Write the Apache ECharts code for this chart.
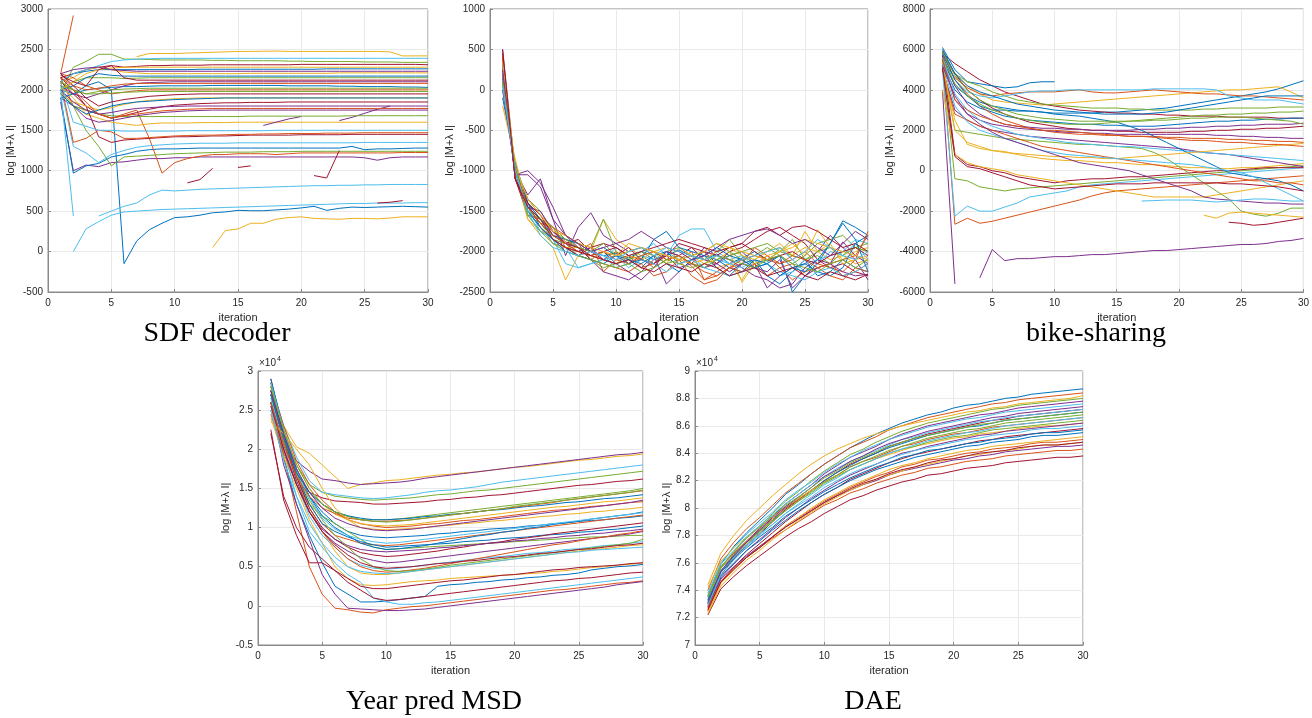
<!DOCTYPE html>
<html><head><meta charset="utf-8">
<script src="https://cdn.jsdelivr.net/npm/echarts/dist/echarts.min.js"></script>
<style>html,body{margin:0;padding:0;background:#fff}#c{width:1312px;height:718px}</style>
</head><body><div id="c"></div>
<script>
const iterations = [1,2,3,4,5,6,7,8,9,10,11,12,13,14,15,16,17,18,19,20,21,22,23,24,25,26,27,28,29,30];

const sdfLines = [
[2000,1950,2050,2100,2000,-150,130,270,350,420, 430,450,480,490,510,505,505,515,525,540, 560,510,535,550,545,550,555,560,555,550],
[2200,2920],
[null,null,null,null,null,null,null,null,null,null, null,null,50,260,280,350,350,400,420,430, 410,405,400,410,410,405,415,430,430,430],
[1850,1000,1070,1050,1100,1110,1130,1150,1150,1160, 1160,1170,1170,1170,1170,1170,1170,1170,1170,1170, 1170,1170,1170,1170,1160,1130,1160,1170,1170,1170],
[1950,2280,2350,2440,2440,2380,2380,2375,2370,2370, 2370,2370,2365,2365,2360,2360,2360,2360,2355,2355, 2350,2350,2350,2350,2345,2345,2345,2340,2340,2340],
[null,0,280,370,450,490,500,510,520,525, 530,535,540,545,550,555,560,565,570,575, 580,585,590,595,595,600,600,600,605,605],
[2150,2200,2250,2280,2300,2280,2290,2300,2300,2305, 2305,2305,2310,2310,2310,2310,2310,2310,2310,2315, 2315,2315,2315,2315,2315,2315,2315,2315,2315,2310],
[1900,970,1060,1090,1170,1200,1240,1260,1270,1270, 1275,1280,1280,1280,1280,1280,1280,1280,1280,1280, 1280,1280,1280,1300,1260,1270,1270,1275,1280,1280],
[2150,1800,1750,1700,1650,1700,1750,1400,970,1100, 1150,1180,1200,1200,1210,1210,1210,1200,1210,1220, 1220,1220,1220,1220,1220,1220,1220,1225,1225,1225],
[2050,1900,1700,1650,1600,1580,1560,1580,1590,1590, 1590,1595,1595,1595,1600,1600,1600,1600,1600,1600, 1600,1600,1600,1600,1600,1600,1600,1600,1600,1600],
[null,null,null,null,null,null,null,null,null,null, null,null,null,null,null,null,1560,1600,1640,1670, null,null,1620,1660,1710,1760,1800],
[2000,1800,1500,1300,1060,1170,1180,1190,1200,1210, 1215,1220,1225,1230,1230,1230,1235,1235,1235,1240, 1240,1240,1240,1240,1240,1240,1240,1240,1240,1240],
[2050,1300,1220,1100,1200,1250,1290,1310,1320,1330, 1335,1340,1340,1340,1345,1345,1345,1345,1345,1345, 1345,1345,1345,1345,1350,1350,1350,1350,1350,1350],
[2150,2000,1800,1420,1350,1380,1390,1400,1410,1420, 1420,1425,1430,1430,1435,1440,1440,1440,1440,1445, 1445,1445,1445,1450,1450,1450,1450,1450,1450,1450],
[1900,1950,2000,2020,2030,2040,2040,2045,2050,2050, 2050,2050,2055,2055,2055,2055,2055,2055,2050,2050, 2050,2050,2045,2045,2040,2040,2040,2035,2035,2030],
[2100,1350,1400,1500,1480,1400,1400,1410,1420,1430, 1435,1440,1440,1445,1450,1450,1455,1455,1460,1460, 1460,1465,1465,1465,1470,1470,1470,1470,1470,1470],
[2100,2150,2250,2280,2250,2220,2210,2200,2200,2200, 2200,2200,2200,2200,2200,2205,2205,2205,2205,2205, 2205,2205,2210,2210,2210,2210,2210,2210,2210,2210],
[2050,1950,1900,1950,2000,2050,2080,2090,2095,2100, 2100,2100,2100,2100,2100,2100,2100,2100,2100,2100, 2100,2100,2100,2100,2100,2100,2100,2100,2100,2100],
[1950,1800,1750,1700,1680,1670,1670,1670,1670,1670, 1670,1670,1670,1670,1670,1675,1675,1675,1675,1675, 1675,1675,1675,1680,1680,1680,1680,1680,1680,1680],
[null,null,null,440,500,560,600,700,760,750, 760,770,775,780,785,790,795,800,805,810, 815,815,820,820,825,825,830,830,830,830],
[2100,1950,1800,1700,1650,1680,1720,1760,1790,1810, 1820,1830,1835,1840,1840,1845,1845,1845,1850,1850, 1850,1850,1850,1850,1850,1850,1850,1850,1850,1850],
[2100,2200,2230,2250,2250,2250,2250,2250,2250,2250, 2250,2255,2255,2255,2255,2255,2255,2255,2255,2255, 2255,2260,2260,2260,2260,2260,2260,2260,2260,2260],
[2200,2150,2050,2000,1950,1970,1990,2000,2000,2000, 2000,2000,2000,2000,2000,2000,2000,2000,2000,2000, 2000,2000,2000,2000,2000,2000,2000,2000,2000,2000],
[1950,1850,1800,1750,1780,1820,1850,1870,1880,1890, 1895,1900,1900,1900,1900,1900,1900,1900,1900,1900, 1900,1900,1900,1900,1900,1900,1900,1900,1900,1900],
[2000,1850,1750,1700,1720,1750,1770,1780,1790,1795, 1800,1800,1800,1800,1800,1800,1800,1800,1800,1800, 1800,1800,1800,1800,1800,1800,1800,1800,1800,1800],
[2000,2100,2150,2150,2150,2140,2145,2150,2150,2150, 2150,2150,2150,2150,2150,2150,2150,2150,2150,2150, 2150,2150,2150,2150,2150,2150,2150,2150,2150,2150],
[2100,2200,2250,2300,2350,2370,2380,2385,2390,2390, 2390,2390,2390,2390,2390,2390,2390,2390,2390,2390, 2390,2390,2390,2390,2390,2390,2390,2390,2390,2390],
[null,null,null,null,null,null,null,null,null,null, 850,890,1030,null,1040,1060,null,null,null,null, 940,910,1250,null,null,600,610,630],
[2000,2050,2150,2200,2180,2170,2170,2170,2170,2170, 2170,2170,2170,2170,2170,2170,2170,2170,2170,2170, 2170,2170,2170,2170,2170,2170,2170,2170,2170,2170],
[2150,2050,2000,2020,2050,2070,2080,2080,2080,2080, 2080,2080,2080,2080,2080,2080,2080,2080,2080,2080, 2080,2080,2080,2080,2080,2080,2080,2080,2080,2080],
[null,null,null,null,null,null,2410,2450,2450,2450, 2455,2460,2465,2470,2475,2475,2478,2480,2475,2475, 2475,2475,2475,2475,2475,2475,2470,2420,2420,2420],
[1900,1800,1650,1600,1620,1650,1680,1700,1720,1730, 1740,1745,1750,1750,1750,1750,1750,1750,1750,1750, 1750,1750,1750,1750,1750,1750,1750,1750,1750,1750],
[2050,2000,1950,1950,1960,1970,1975,1980,1980,1980, 1980,1980,1980,1980,1980,1980,1980,1980,1980,1980, 1980,1980,1980,1980,1980,1980,1980,1980,1980,1980],
[2100,1600,1550,1500,1500,1490,1490,1490,1490,1490, 1495,1495,1495,1495,1495,1495,1495,1500,1500,1500, 1500,1500,1500,1500,1500,1500,1500,1500,1500,1500],
[2200,2050,1900,1800,1850,1880,1900,1920,1930,1940, 1945,1950,1950,1950,1950,1950,1950,1950,1950,1950, 1950,1950,1950,1950,1950,1950,1950,1950,1950,1950],
[1950,1800,1700,1750,1800,1830,1850,1860,1870,1880, 1885,1890,1895,1900,1900,1900,1900,1900,1900,1900, 1900,1900,1900,1900,1900,1900,1900,1900,1900,1900],
[2100,2000,1850,1700,1650,1680,1700,1720,1740,1750, 1760,1765,1770,1770,1770,1770,1770,1770,1770,1770, 1770,1770,1770,1770,1770,1770,1770,1770,1770,1770],
[2000,2100,2200,2250,2270,2280,2280,2280,2280,2280, 2280,2280,2280,2280,2280,2280,2280,2280,2280,2280, 2280,2280,2280,2280,2280,2280,2280,2280,2280,2280],
[2200,2250,2270,2280,2250,2240,2230,2230,2230,2230, 2230,2230,2230,2230,2230,2230,2230,2230,2230,2230, 2230,2230,2230,2230,2230,2230,2230,2230,2230,2230],
[2100,2000,1950,1980,2000,2010,2015,2020,2020,2020, 2020,2020,2020,2020,2020,2020,2020,2020,2020,2020, 2020,2020,2020,2020,2020,2020,2020,2020,2020,2020],
[2000,440],
[2180,2100,2050,2250,2300,2150,2120,2120,2120,2120, 2120,2120,2120,2120,2120,2120,2120,2120,2120,2120, 2120,2120,2120,2120,2120,2120,2120,2120,2120,2120]
];

const abaloneLines = [
[200,-1000,-1450,-1650,-1800,-1900,-1950,-2000,-2050,-2020, -2080,-2000,-2100,-2050,-1980,-2060,-2100,-2030,-2150,-2080, -2000,-2120,-2050,-2500,-2300,-2150,-1900,-1620,-1700,-1800],
[300,-950,-1400,-1600,-1750,-1880,-1950,-2050,-2100,-2000, -2150,-2080,-2200,-2100,-2050,-2180,-2350,-2250,-2150,-2100, -2200,-2050,-2150,-2100,-2000,-2150,-2200,-2250,-2100,-1750],
[100,-1050,-1600,-1800,-1950,-2350,-2050,-2000,-1600,-1850, -1950,-2050,-2000,-1950,-2100,-2050,-2000,-2200,-2150,-2350, -2100,-2000,-1900,-2050,-1750,-2000,-2100,-2050,-2150,-2100],
[500,-1000,-1300,-1100,-1600,-2050,-1700,-1520,-1800,-1900, -2000,-1950,-2050,-2400,-2250,-2100,-2000,-2150,-2050,-2000, -2150,-2450,-2300,-2200,-2150,-2000,-1800,-1950,-2100,-2350],
[0,-950,-1350,-1500,-1750,-1850,-1900,-1950,-1600,-2000, -2100,-2050,-2150,-2000,-1950,-2050,-2100,-2000,-1850,-2050, -2150,-2100,-2000,-1850,-2100,-2050,-2150,-2000,-1950,-2000],
[150,-1050,-1500,-1700,-1850,-1950,-2200,-2150,-2100,-1950, -2050,-2000,-1900,-2050,-1800,-1720,-1720,-2000,-2100,-2050, -2200,-2150,-1950,-2100,-2250,-2150,-2000,-2050,-1900,-2100],
[400,-1100,-1550,-1600,-1750,-1900,-1850,-2000,-2100,-2050, -1950,-2100,-2150,-2000,-2050,-1950,-2100,-2150,-2000,-1950, -1850,-1750,-1700,-1800,-1900,-2100,-2200,-2150,-2250,-2300],
[-100,-900,-1400,-1700,-1900,-1950,-2050,-2100,-2000,-2150, -2100,-2200,-2050,-2150,-2250,-2100,-2050,-2200,-2300,-2150, -2100,-2300,-2400,-2250,-2100,-2300,-2250,-2100,-2200,-2250],
[250,-1000,-1350,-1550,-1700,-1950,-2000,-1900,-2250,-2100, -2050,-2200,-2150,-2050,-2100,-2000,-2350,-2300,-2200,-2150, -1950,-2050,-2200,-2150,-2300,-2200,-2150,-2300,-2250,-2150],
[450,-1000,-1600,-1750,-1800,-1850,-1950,-2100,-2000,-2050, -1900,-1950,-2000,-2150,-1950,-2050,-2150,-2100,-2000,-2380, -2150,-2050,-2000,-1900,-2050,-1730,-1950,-2100,-2000,-1950],
[350,-1050,-1000,-1150,-1450,-1800,-1950,-2100,-2250,-2300, -2350,-2250,-2100,-2050,-2200,-2150,-1950,-2050,-2100,-2200, -2300,-2350,-2450,-2400,-2200,-2100,-2150,-2250,-2300,-2280],
[50,-1000,-1450,-1650,-1850,-1900,-2050,-2100,-2200,-2150, -2100,-2000,-2050,-2150,-2100,-2050,-2000,-1900,-2000,-2100, -2050,-1950,-2050,-2150,-2050,-1900,-1850,-1800,-1950,-2000],
[200,-1050,-1550,-1750,-1800,-1900,-1950,-2000,-2050,-2200, -2150,-2050,-2100,-2000,-2100,-2050,-2200,-2100,-2150,-2200, -2100,-2150,-2300,-2250,-2150,-2100,-2050,-2000,-1850,-1900],
[300,-1100,-1500,-1700,-1850,-1950,-2050,-1950,-1900,-1950, -2050,-2100,-2150,-2050,-1900,-1950,-2000,-2050,-1950,-1900, -1750,-1700,-1800,-1700,-1680,-1750,-1850,-1950,-1900,-2000],
[100,-950,-1400,-1600,-1800,-1850,-1900,-2000,-1950,-2050, -2100,-2150,-2050,-2000,-2150,-2100,-2050,-2100,-2200,-2250, -2100,-2150,-2050,-2200,-2150,-2250,-2300,-2200,-1900,-1800],
[400,-1050,-1500,-1650,-1700,-1800,-1900,-2100,-2150,-2200, -2250,-2150,-2300,-2250,-2100,-2300,-2400,-2350,-2200,-2250, -2150,-2300,-2200,-2350,-2250,-2200,-2300,-2350,-2200,-2250],
[-200,-850,-1500,-1700,-1900,-1950,-1950,-2050,-2100,-2150, -2050,-2100,-2000,-2050,-2100,-2150,-2100,-2000,-1950,-2050, -2100,-2000,-1950,-2050,-1950,-2000,-1900,-2150,-2100,-2050],
[0,-1000,-1450,-1500,-1750,-1900,-2000,-1950,-2100,-2150, -2250,-2350,-2200,-2000,-2050,-2150,-2200,-2150,-2250,-2150, -2200,-2250,-2100,-2450,-2300,-2200,-2150,-1880,-2050,-2150],
[250,-1000,-1500,-1600,-1700,-1850,-1950,-2000,-1900,-2050, -2000,-1950,-2000,-2100,-2050,-2150,-2200,-2100,-2050,-2000, -1950,-1900,-2000,-2050,-2100,-2000,-1950,-2050,-1950,-1900],
[300,-1050,-1450,-1750,-1850,-2150,-2200,-2150,-2100,-2050, -2200,-2100,-2150,-2250,-2150,-2100,-2200,-2250,-2300,-2250, -2200,-2150,-2250,-2300,-2350,-2250,-2200,-2300,-2250,-2150],
[450,-1100,-1400,-1550,-1800,-1900,-1950,-2050,-2000,-1950, -2050,-2000,-1950,-1900,-1850,-1900,-1950,-2000,-1950,-1900, -2000,-2100,-2050,-2000,-2100,-2150,-2050,-2000,-1950,-2050],
[150,-1000,-1500,-1700,-1850,-2000,-2050,-2100,-2150,-2050, -2150,-2100,-1850,-1750,-1950,-2000,-2050,-1950,-2050,-2100, -2200,-2150,-2300,-2200,-2250,-2100,-1900,-1650,-1850,-2250],
[200,-1000,-1450,-1650,-1800,-1900,-2000,-2050,-2000,-2100, -2150,-2050,-2000,-2100,-2050,-2150,-2250,-2300,-2200,-2100, -2050,-2100,-2150,-2050,-2100,-2200,-2150,-2100,-2050,-1800],
[350,-950,-1350,-1550,-1750,-1800,-1900,-1950,-2000,-2050, -2000,-1950,-2000,-2050,-2100,-2050,-2000,-1900,-1950,-2000, -2050,-2100,-2000,-1950,-1850,-1900,-1950,-2000,-2050,-2100],
[250,-1050,-1050,-1200,-1600,-1800,-1900,-2000,-1950,-1900, -1850,-1750,-1850,-1950,-2000,-2100,-2050,-1950,-1850,-1800, -1750,-1720,-1800,-1900,-1850,-1950,-2050,-1900,-1750,-1850],
[100,-950,-1550,-1750,-1900,-2000,-2050,-2100,-2150,-2200, -2150,-2250,-2200,-2100,-2150,-2200,-2150,-2050,-2100,-2150, -2200,-2100,-2050,-2150,-2200,-2250,-2150,-2100,-2200,-2100],
[50,-1000,-1500,-1800,-1950,-2000,-2050,-2000,-2050,-2100, -2000,-1950,-2050,-1950,-2000,-2050,-2100,-2050,-2150,-2100, -2050,-2000,-1950,-2100,-2000,-1850,-1950,-2050,-2100,-2000],
[500,-1100,-1450,-1600,-1850,-1950,-2000,-2050,-2100,-2150, -2100,-2200,-2250,-2150,-2200,-2250,-2150,-2200,-2300,-2250, -2200,-2300,-2250,-2200,-2300,-2350,-2250,-2300,-2350,-2280]
];

const bikeLines = [
[5500,4200,3700,3400,3200,3100,3000,2950,2900,2850, 2850,2850,2850,2900,2900,2950,3000,3050,3100,3200, 3300,3400,3500,3600,3700,3800,3900,4050,4250,4450],
[5500,-2650,-2350,-2600,-2500,-2350,-2200,-2050,-1900,-1750, -1600,-1450,-1250,-1100,-1000,-950,-900,-850,-800,-750, -700,-650,-600,-550,-500,-450,-400,-350,-300,-250],
[5700,4800,4200,3800,3500,3400,3350,3300,3250,3300, 3350,3400,3450,3500,3550,3600,3650,3700,3750,3800, 3850,3900,3950,4000,4000,4050,4100,4150,3900,3600],
[4000,-5600,null,-5300,-3900,-4450,-4350,-4350,-4300,-4250, -4250,-4200,-4150,-4150,-4100,-4050,-4000,-3950,-3950,-3900, -3850,-3800,-3750,-3700,-3650,-3650,-3600,-3500,-3450,-3350],
[5500,-400,-500,-800,-900,-1000,-900,-850,-800,-750, -700,-650,-600,-550,-500,-450,-400,-350,-300,-250, -200,-150,-100,-50,0,50,100,150,200,250],
[5000,-2250,-1750,-2000,-2000,-1800,-1600,-1300,-1200,-1100, -1000,-800,-700,-650,-600,-550,-500,-450,-400,-350, -300,-250,-200,-150,-100,-50,0,50,100,150],
[5800,5300,4900,4500,4200,3900,3700,3500,3300,3200, 3100,3000,2950,2900,2850,2850,2800,2800,2750,2750, 2700,2700,2700,2650,2650,2650,2650,2600,2600,2600],
[6100,5000,4400,4300,4200,4100,4150,4350,4400,4400],
[5400,4600,4100,3800,3700,3800,3850,3900,3900,3900, 3950,4000,3900,3850,3850,3900,3950,4000,3950,3900, 3850,3800,3800,3750,3700,3700,3650,3600,3550,3500],
[5200,2500,1300,1100,1000,950,800,700,600,550, 500,500,450,400,400,350,300,300,250,200, 150,150,100,100,150,150,200,250,300,350],
[5000,3000,2500,2200,2000,1900,1800,1700,1650,1600, 1550,1500,1450,1400,1350,1300,1250,1200,1150,1100, 1000,900,850,800,700,600,500,400,300,200],
[5800,4800,4400,4200,3900,3700,3500,3400,3300,3250, 3200,3150,3100,3100,3100,3050,3050,3000,3000,3000, 3000,3050,3050,3100,3100,3100,3100,3150,3150,3150],
[5600,4500,3900,3700,3600,3700,3800,3900,3950,3950, 4000,4000,4000,4000,4000,4000,4000,4050,4050,4050, 4050,4050,4000,3700,3600,3500,3500,3500,3400,3300],
[5700,800,300,200,0,-100,-300,-400,-500,-600, -500,-450,-400,-400,-350,-300,-300,-250,-200,-150, -100,-50,0,0,50,100,150,150,150,150],
[5300,4000,3400,3100,2900,2700,2600,2500,2450,2400, 2350,2300,2300,2250,2250,2200,2200,2200,2250,2300, 2350,2400,2450,2450,2500,2500,2550,2550,2600,2600],
[5900,4500,3800,3200,2800,2500,2300,2100,2000,1900, 1850,1800,1800,1750,1750,1700,1700,1700,1650,1650, 1600,1600,1600,1550,1550,1500,1500,1450,1450,1400],
[4000,800,400,200,100,0,-200,-300,-400,-500, -600,-700,-800,-900,-1000,-1100,-1200,-1300,-1300,-1300, -1300,-1300,-1200,-1100,-1000,-900,-800,-700,-600,-500],
[5500,3500,2800,2500,2300,2200,2100,2050,2000,1950, 1900,1900,1850,1850,1800,1800,1800,1800,1800,1800, 1800,1800,1750,1750,1700,1700,1650,1650,1600,1600],
[5200,2000,1900,1800,1700,1600,1550,1500,1450,1400, 1350,1300,1300,1250,1200,1150,1100,900,600,200, -200,-600,-1000,-1400,-2000,-2150,-2250,-2100,-1850,-1850],
[5600,3800,3000,2500,2200,2000,1800,1700,1600,1500, 1400,1350,1300,1250,1200,1200,1150,1100,1050,1000, 950,900,850,800,750,700,650,600,550,500],
[5900,4800,4000,3500,3100,2800,2600,2400,2300,2200, 2100,2050,2000,2000,1950,1950,1900,1900,1900,1900, 1950,1950,2000,2000,2050,2050,2100,2100,2150,2200],
[5800,4500,3700,3200,3000,3000,2950,2950,2900,2800, 2750,2700,2600,2500,2400,2200,2000,1700,1400,1100, 800,500,200,-100,-200,-300,-400,-500,-700,-1000],
[5000,2800,2500,2200,2000,1800,1600,1400,1200,1100, 1000,900,800,700,600,500,400,300,200,100, 0,-100,-200,-300,-400,-500,-500,-600,-600,-700],
[5400,2000,1400,1200,1000,900,850,800,750,700, 700,650,650,600,600,650,700,750,800,850, 900,950,1000,1050,1100,1150,1200,1250,1300,1350],
[5700,4200,3300,2800,2500,2300,2200,2150,2100,2100, 2050,2050,2000,2000,2000,2000,2050,2050,2100,2100, 2150,2150,2200,2200,2250,2250,2300,2300,2300,2350],
[5900,4700,4000,3500,3200,3000,2800,2700,2600,2550, 2500,2450,2450,2450,2450,2450,2450,2500,2500,2550, 2600,2600,2650,2650,2650,2600,2550,2500,2450,2300],
[5300,3200,2400,2000,1800,1600,1400,1200,1000,900, 800,750,700,650,600,550,500,450,400,350, 300,200,100,0,-100,-300,-600,-900,-1200,-1500],
[5100,700,200,100,-100,-300,-500,-700,-800,-900, -850,-800,-750,-700,-650,-650,-650,-600,-600,-600, -600,-600,-600,-650,-650,-700,-750,-800,-900,-1000],
[6000,4800,4200,3900,3700,3500,3300,3200,3100,3000, 2950,2900,2850,2800,2800,2800,2800,2850,2900,3000, 3100,3200,3300,3400,3500,3600,3700,3700,3700,3700],
[5500,3500,3000,2700,2500,2300,2200,2100,2000,2000, 1950,1900,1850,1800,1750,1700,1700,1650,1600,1550, 1500,1500,1450,1400,1400,1350,1300,1300,1250,1200],
[null,null,null,null,null,null,null,null,null,null, null,null,null,null,null,null,null,null,null,null, null,-2200,-2350,-2100,-2050,-2100,-2150,-2200,-2250,-2300],
[5200,3700,2800,2300,1900,1600,1400,1200,1000,800, 600,400,300,200,100,0,-200,-400,-600,-800, -1000,-1300,-1400,-1450,-1500,-1550,-1600,-1600,-1650,-1650],
[5600,4300,3700,3300,3000,2800,2600,2500,2400,2350, 2300,2300,2300,2350,2400,2450,2500,2550,2600,2650, 2700,2750,2750,2800,2800,2850,2850,2900,2900,2950],
[null,null,null,null,null,null,null,null,null,null, null,null,null,null,null,null,-1500,-1480,-1450,-1450, -1450,-1500,-1550,-1500,-1450,-1400,-1400,-1450,-1500,-1500],
[null,null,null,null,null,null,null,null,null,null, null,null,null,null,null,null,null,null,null,null, null,null,null,-2550,-2600,-2700,-2650,-2550,-2450,-2350]
];

// Year pred MSD values, in units of 10^4
const msdLines = [
[2.75,2.2,1.75,1.4,1.2,1.05,0.95,0.9,0.88,0.87, 0.88,0.89,0.9,0.92,0.93,0.95,0.96,0.98,0.99,1.0, 1.02,1.03,1.05,1.06,1.08,1.09,1.1,1.12,1.13,1.15],
[2.85,1.9,1.2,0.5,0.15,-0.03,-0.05,-0.08,-0.09,-0.05, -0.03,-0.01,0.0,0.02,0.04,0.06,0.08,0.1,0.12,0.14, 0.16,0.18,0.2,0.21,0.23,0.25,0.27,0.29,0.3,0.32],
[2.6,2.3,2.03,1.95,1.8,1.65,1.5,1.55,1.57,1.6, 1.61,1.63,1.65,1.67,1.68,1.7,1.71,1.73,1.75,1.77, 1.78,1.8,1.82,1.84,1.86,1.87,1.89,1.91,1.92,1.94],
[2.5,2.1,1.85,1.72,1.62,1.6,1.57,1.55,1.56,1.57, 1.58,1.6,1.63,1.65,1.67,1.69,1.71,1.73,1.75,1.77, 1.79,1.81,1.83,1.85,1.87,1.89,1.91,1.93,1.94,1.96],
[2.7,2.2,1.8,1.55,1.45,1.4,1.38,1.36,1.35,1.36, 1.37,1.38,1.4,1.42,1.43,1.45,1.47,1.48,1.5,1.52, 1.54,1.56,1.58,1.6,1.62,1.64,1.66,1.68,1.7,1.72],
[2.8,2.3,1.9,1.6,1.45,1.42,1.4,1.38,1.37,1.38, 1.4,1.42,1.45,1.47,1.48,1.5,1.52,1.55,1.58,1.6, 1.62,1.64,1.66,1.68,1.7,1.72,1.74,1.76,1.78,1.8],
[2.9,2.2,1.7,1.45,1.38,1.34,1.33,1.32,1.3,1.3, 1.31,1.32,1.33,1.35,1.36,1.38,1.39,1.41,1.42,1.44, 1.46,1.48,1.5,1.52,1.54,1.55,1.57,1.59,1.6,1.62],
[2.6,1.9,1.3,0.9,0.55,0.25,0.15,0.05,0.05,0.06, 0.08,0.1,0.12,0.25,0.27,0.28,0.3,0.31,0.33,0.34, 0.36,0.37,0.39,0.4,0.42,0.46,0.48,0.5,0.51,0.53],
[2.7,2.1,1.65,1.3,1.05,0.9,0.85,0.8,0.78,0.77, 0.78,0.8,0.82,0.84,0.86,0.88,0.9,0.92,0.94,0.96, 0.98,1.0,1.02,1.04,1.06,1.08,1.1,1.12,1.14,1.16],
[2.4,1.9,1.5,1.1,0.8,0.5,0.35,0.27,0.26,0.27, 0.29,0.31,0.32,0.33,0.35,0.36,0.37,0.38,0.39,0.4, 0.41,0.42,0.44,0.45,0.47,0.49,0.5,0.52,0.53,0.55],
[2.6,1.8,1.3,0.85,0.4,0.15,-0.03,-0.04,-0.05,-0.06, -0.06,-0.05,-0.04,-0.02,0.0,0.02,0.04,0.06,0.08,0.1, 0.12,0.14,0.16,0.18,0.2,0.22,0.24,0.27,0.29,0.31],
[2.55,2.0,1.6,1.3,1.15,1.05,0.95,0.85,0.75,0.72, 0.73,0.74,0.75,0.76,0.77,0.78,0.79,0.8,0.81,0.82, 0.83,0.84,0.85,0.86,0.87,0.88,0.88,0.89,0.9,0.9],
[2.75,2.0,1.4,0.95,0.75,0.55,0.4,0.3,0.1,0.05, 0.02,0.02,0.04,0.05,0.07,0.09,0.11,0.13,0.15,0.17, 0.19,0.21,0.23,0.25,0.27,0.29,0.31,0.33,0.35,0.37],
[2.2,1.4,1.0,0.75,0.6,0.45,0.3,0.2,0.1,0.07, 0.08,0.1,0.12,0.14,0.16,0.18,0.2,0.22,0.24,0.26, 0.28,0.3,0.32,0.33,0.35,0.36,0.38,0.4,0.42,0.43],
[2.8,2.2,1.7,1.3,1.05,0.95,0.88,0.82,0.78,0.75, 0.76,0.77,0.78,0.79,0.8,0.82,0.83,0.84,0.86,0.87, 0.88,0.9,0.91,0.92,0.94,0.95,0.97,0.98,1.0,1.02],
[2.85,2.3,1.85,1.55,1.35,1.2,1.1,1.05,1.02,1.0, 1.01,1.02,1.04,1.05,1.07,1.09,1.1,1.12,1.14,1.16, 1.18,1.2,1.22,1.23,1.25,1.27,1.28,1.3,1.32,1.33],
[2.5,2.0,1.6,1.25,0.95,0.7,0.5,0.42,0.4,0.4, 0.42,0.44,0.46,0.48,0.5,0.52,0.54,0.56,0.58,0.6, 0.62,0.64,0.66,0.68,0.7,0.72,0.73,0.75,0.77,0.78],
[2.7,2.1,1.6,1.2,0.95,0.8,0.7,0.62,0.58,0.55, 0.56,0.58,0.6,0.62,0.64,0.66,0.68,0.7,0.72,0.74, 0.76,0.78,0.8,0.82,0.84,0.86,0.88,0.9,0.92,0.95],
[2.6,2.1,1.7,1.45,1.3,1.2,1.15,1.1,1.1,1.1, 1.11,1.13,1.15,1.17,1.19,1.21,1.23,1.25,1.27,1.29, 1.31,1.33,1.35,1.37,1.39,1.41,1.43,1.45,1.47,1.5],
[2.65,2.05,1.55,1.15,0.9,0.75,0.6,0.52,0.48,0.47, 0.48,0.5,0.52,0.54,0.56,0.58,0.6,0.62,0.63,0.65, 0.67,0.68,0.7,0.72,0.73,0.75,0.77,0.78,0.8,0.82],
[2.75,2.15,1.65,1.25,1.0,0.85,0.75,0.68,0.65,0.63, 0.64,0.66,0.68,0.7,0.73,0.75,0.78,0.8,0.82,0.85, 0.87,0.89,0.92,0.94,0.96,0.98,1.0,1.02,1.04,1.06],
[2.9,2.25,1.75,1.4,1.15,1.0,0.9,0.8,0.75,0.72, 0.73,0.75,0.77,0.8,0.83,0.86,0.89,0.91,0.94,0.96, 0.99,1.01,1.04,1.06,1.08,1.11,1.13,1.15,1.17,1.2],
[2.45,1.95,1.55,1.2,0.95,0.75,0.6,0.5,0.45,0.43, 0.44,0.46,0.48,0.51,0.54,0.57,0.6,0.63,0.66,0.69, 0.72,0.75,0.78,0.8,0.83,0.86,0.88,0.91,0.93,0.96],
[2.8,2.25,1.8,1.5,1.3,1.17,1.1,1.05,1.03,1.02, 1.03,1.04,1.06,1.08,1.1,1.12,1.14,1.16,1.18,1.2, 1.22,1.24,1.26,1.27,1.29,1.31,1.33,1.34,1.36,1.38],
[2.55,2.0,1.55,1.2,0.98,0.85,0.77,0.72,0.7,0.69, 0.7,0.71,0.72,0.74,0.75,0.77,0.78,0.8,0.81,0.83, 0.84,0.86,0.87,0.89,0.9,0.92,0.93,0.95,0.96,0.98],
[2.7,2.15,1.7,1.35,1.1,0.9,0.75,0.6,0.5,0.45, 0.44,0.45,0.47,0.49,0.52,0.54,0.56,0.58,0.6,0.62, 0.64,0.66,0.68,0.7,0.72,0.74,0.76,0.78,0.8,0.85],
[2.85,2.25,1.75,1.38,1.12,0.98,0.9,0.85,0.82,0.8, 0.81,0.83,0.85,0.87,0.89,0.91,0.93,0.95,0.97,0.99, 1.01,1.03,1.05,1.07,1.09,1.11,1.13,1.15,1.17,1.19],
[2.6,2.0,1.55,1.2,0.95,0.78,0.65,0.55,0.5,0.48, 0.49,0.5,0.52,0.54,0.55,0.57,0.58,0.6,0.62,0.63, 0.65,0.67,0.68,0.7,0.72,0.73,0.75,0.77,0.78,0.8],
[2.7,2.15,1.7,1.45,1.3,1.2,1.15,1.12,1.1,1.1, 1.11,1.12,1.14,1.15,1.17,1.18,1.2,1.22,1.23,1.25, 1.27,1.28,1.3,1.32,1.33,1.35,1.37,1.38,1.4,1.42],
[2.6,2.05,1.65,1.4,1.25,1.18,1.12,1.1,1.08,1.08, 1.09,1.1,1.12,1.14,1.16,1.18,1.2,1.22,1.24,1.26, 1.28,1.3,1.32,1.35,1.37,1.39,1.41,1.43,1.45,1.47],
[2.35,2.2,2.0,1.8,1.5,1.25,1.1,1.0,0.98,0.97, 0.98,0.99,1.0,1.02,1.03,1.05,1.06,1.08,1.09,1.11, 1.12,1.14,1.15,1.17,1.18,1.2,1.21,1.23,1.24,1.26],
[2.75,2.2,1.75,1.45,1.25,1.12,1.05,1.0,0.97,0.96, 0.97,0.98,1.0,1.02,1.04,1.06,1.08,1.1,1.12,1.14, 1.16,1.18,1.2,1.22,1.24,1.26,1.28,1.3,1.32,1.35],
[2.8,2.25,1.8,1.5,1.3,1.2,1.14,1.1,1.08,1.07, 1.08,1.1,1.12,1.14,1.16,1.18,1.2,1.22,1.24,1.27, 1.29,1.31,1.33,1.35,1.37,1.39,1.41,1.43,1.45,1.48],
[2.5,1.85,1.4,1.05,0.8,0.62,0.5,0.44,0.42,0.41, 0.42,0.44,0.46,0.48,0.5,0.52,0.54,0.56,0.58,0.6, 0.62,0.64,0.66,0.68,0.69,0.71,0.72,0.73,0.74,0.75],
[2.25,1.35,0.9,0.55,0.55,0.45,0.35,0.25,0.22,0.22, 0.24,0.26,0.28,0.3,0.32,0.33,0.35,0.37,0.39,0.4, 0.42,0.44,0.46,0.47,0.49,0.5,0.51,0.52,0.54,0.55]
];

// DAE values, in units of 10^4
const daeLines = [
[7.35,7.59,7.72,7.82,7.91,8.00,8.10,8.17,8.25,8.32, 8.38,8.44,8.49,8.54,8.58,8.62,8.65,8.68,8.70,8.73, 8.75,8.76,8.78,8.80,8.81,8.83,8.84,8.85,8.86,8.87],
[7.40,7.63,7.75,7.85,7.93,8.02,8.11,8.18,8.25,8.32, 8.38,8.44,8.48,8.52,8.57,8.60,8.63,8.66,8.68,8.70, 8.72,8.74,8.76,8.77,8.79,8.80,8.81,8.82,8.83,8.84],
[7.44,7.67,7.80,7.91,8.00,8.09,8.17,8.25,8.32,8.38, 8.43,8.47,8.51,8.54,8.57,8.60,8.62,8.64,8.66,8.68, 8.70,8.71,8.73,8.74,8.76,8.77,8.78,8.79,8.80,8.82],
[7.30,7.54,7.66,7.76,7.85,7.94,8.03,8.10,8.17,8.25, 8.31,8.37,8.41,8.45,8.50,8.54,8.57,8.60,8.62,8.64, 8.66,8.68,8.69,8.71,8.73,8.74,8.75,8.76,8.77,8.78],
[7.33,7.57,7.68,7.79,7.87,7.96,8.05,8.12,8.20,8.27, 8.33,8.39,8.43,8.48,8.52,8.56,8.59,8.62,8.64,8.66, 8.68,8.70,8.72,8.73,8.75,8.76,8.77,8.78,8.79,8.80],
[7.38,7.60,7.71,7.81,7.89,7.97,8.06,8.13,8.19,8.26, 8.32,8.37,8.42,8.46,8.50,8.53,8.56,8.59,8.61,8.63, 8.65,8.66,8.68,8.70,8.71,8.72,8.73,8.74,8.75,8.76],
[7.28,7.51,7.63,7.73,7.81,7.90,7.99,8.06,8.13,8.20, 8.26,8.32,8.36,8.40,8.45,8.48,8.51,8.54,8.56,8.58, 8.60,8.62,8.64,8.65,8.67,8.68,8.69,8.70,8.71,8.72],
[7.32,7.54,7.65,7.75,7.83,7.91,8.00,8.07,8.13,8.20, 8.26,8.31,8.36,8.40,8.44,8.47,8.50,8.53,8.55,8.57, 8.59,8.60,8.62,8.64,8.65,8.66,8.67,8.68,8.69,8.70],
[7.36,7.57,7.67,7.76,7.84,7.92,8.00,8.06,8.13,8.19, 8.24,8.30,8.34,8.37,8.41,8.45,8.47,8.50,8.52,8.54, 8.55,8.57,8.59,8.60,8.61,8.62,8.63,8.64,8.65,8.66],
[7.42,7.61,7.71,7.79,7.86,7.94,8.01,8.07,8.13,8.19, 8.24,8.28,8.32,8.36,8.39,8.42,8.45,8.47,8.49,8.51, 8.52,8.54,8.55,8.56,8.58,8.59,8.60,8.60,8.61,8.62],
[7.27,7.49,7.59,7.69,7.77,7.85,7.93,8.00,8.07,8.13, 8.19,8.24,8.28,8.32,8.36,8.40,8.42,8.45,8.47,8.49, 8.51,8.53,8.54,8.56,8.57,8.58,8.59,8.60,8.61,8.62],
[7.31,7.53,7.64,7.74,7.82,7.90,7.98,8.05,8.12,8.19, 8.24,8.30,8.34,8.38,8.42,8.45,8.48,8.51,8.53,8.55, 8.57,8.58,8.60,8.62,8.63,8.64,8.65,8.66,8.67,8.68],
[7.34,7.54,7.64,7.73,7.81,7.88,7.96,8.02,8.08,8.15, 8.20,8.25,8.29,8.32,8.36,8.39,8.42,8.44,8.46,8.48, 8.50,8.51,8.53,8.54,8.55,8.57,8.58,8.58,8.59,8.60],
[7.25,7.46,7.57,7.66,7.74,7.82,7.90,7.97,8.04,8.10, 8.15,8.21,8.25,8.29,8.33,8.36,8.39,8.41,8.43,8.45, 8.47,8.49,8.50,8.52,8.53,8.54,8.55,8.56,8.57,8.58],
[7.30,7.50,7.60,7.69,7.76,7.84,7.91,7.98,8.04,8.10, 8.15,8.20,8.24,8.28,8.31,8.34,8.37,8.39,8.41,8.43, 8.45,8.46,8.48,8.49,8.50,8.52,8.53,8.53,8.54,8.55],
[7.26,7.46,7.56,7.64,7.72,7.79,7.87,7.93,7.99,8.05, 8.10,8.15,8.19,8.23,8.26,8.30,8.32,8.35,8.36,8.38, 8.40,8.41,8.43,8.44,8.45,8.47,8.48,8.48,8.49,8.50],
[7.24,7.45,7.55,7.64,7.71,7.79,7.87,7.93,8.00,8.06, 8.11,8.16,8.20,8.24,8.28,8.31,8.33,8.36,8.38,8.40, 8.42,8.43,8.45,8.46,8.47,8.48,8.49,8.50,8.51,8.52],
[7.29,7.48,7.57,7.65,7.72,7.79,7.86,7.92,7.98,8.04, 8.09,8.13,8.17,8.20,8.24,8.27,8.29,8.31,8.33,8.35, 8.36,8.38,8.39,8.41,8.42,8.43,8.44,8.45,8.45,8.46],
[7.35,7.56,7.66,7.75,7.83,7.91,7.98,8.05,8.11,8.18, 8.23,8.28,8.32,8.36,8.40,8.43,8.45,8.48,8.50,8.52, 8.53,8.55,8.57,8.58,8.59,8.60,8.61,8.62,8.63,8.64],
[7.37,7.59,7.69,7.79,7.87,7.95,8.03,8.10,8.17,8.23, 8.29,8.34,8.38,8.42,8.46,8.50,8.52,8.55,8.57,8.59, 8.61,8.63,8.64,8.66,8.67,8.68,8.69,8.70,8.71,8.72],
[7.22,7.41,7.50,7.58,7.65,7.72,7.79,7.85,7.90,7.96, 8.01,8.06,8.09,8.13,8.16,8.19,8.21,8.24,8.25,8.27, 8.29,8.30,8.31,8.33,8.34,8.35,8.36,8.37,8.37,8.38],
[7.33,7.53,7.63,7.71,7.79,7.86,7.94,8.00,8.06,8.12, 8.17,8.22,8.26,8.30,8.33,8.37,8.39,8.42,8.43,8.45, 8.47,8.48,8.50,8.51,8.52,8.54,8.55,8.55,8.56,8.57],
[7.28,7.46,7.56,7.64,7.71,7.78,7.84,7.90,7.96,8.02, 8.06,8.11,8.14,8.18,8.21,8.24,8.26,8.29,8.30,8.32, 8.34,8.35,8.36,8.38,8.39,8.40,8.41,8.42,8.42,8.43],
[7.23,7.43,7.53,7.62,7.69,7.77,7.84,7.91,7.97,8.03, 8.08,8.13,8.17,8.21,8.24,8.27,8.30,8.32,8.34,8.36, 8.38,8.39,8.41,8.42,8.43,8.45,8.46,8.46,8.47,8.48],
[7.31,7.54,7.65,7.75,7.84,7.93,8.01,8.08,8.15,8.23, 8.28,8.34,8.38,8.43,8.47,8.50,8.53,8.56,8.58,8.60, 8.62,8.64,8.66,8.67,8.69,8.70,8.71,8.72,8.73,8.74],
[7.36,7.57,7.68,7.78,7.86,7.94,8.02,8.08,8.15,8.22, 8.27,8.33,8.37,8.41,8.45,8.48,8.51,8.53,8.55,8.57, 8.59,8.61,8.62,8.64,8.65,8.66,8.67,8.68,8.69,8.70],
[7.29,7.51,7.62,7.72,7.80,7.88,7.96,8.03,8.10,8.17, 8.22,8.28,8.32,8.36,8.40,8.43,8.46,8.49,8.51,8.53, 8.55,8.56,8.58,8.60,8.61,8.62,8.63,8.64,8.65,8.66],
[7.26,7.46,7.55,7.64,7.71,7.79,7.86,7.92,7.98,8.04, 8.09,8.14,8.18,8.21,8.25,8.28,8.30,8.33,8.35,8.36, 8.38,8.40,8.41,8.42,8.44,8.45,8.46,8.46,8.47,8.48]
];

const palette = ['#0072BD','#D95319','#EDB120','#7E2F8E','#77AC30','#4DBEEE','#A2142F'];

const panels = [
  {caption:'SDF decoder', lines:sdfLines, grid:{left:48, top:9, width:380, height:283}, y:{min:-500, max:3000, interval:500}, nameGap:32, cap:[217,334], exp:false},
  {caption:'abalone', lines:abaloneLines, grid:{left:490, top:9, width:378, height:283}, y:{min:-2500, max:1000, interval:500}, nameGap:34, cap:[657,334], exp:false},
  {caption:'bike-sharing', lines:bikeLines, grid:{left:930, top:9, width:377, height:283}, y:{min:-6000, max:8000, interval:2000}, nameGap:34, cap:[1096,334], exp:false},
  {caption:'Year pred MSD', lines:msdLines, grid:{left:258, top:371, width:385, height:274}, y:{min:-0.5, max:3, interval:0.5}, nameGap:25, cap:[434,702], exp:true},
  {caption:'DAE', lines:daeLines, grid:{left:695, top:371, width:388, height:274}, y:{min:7, max:9, interval:0.2}, nameGap:22, cap:[873,702], exp:true}
];

const axisColor = '#8a8a8a';
const textColor = '#262626';
const fontSans = 'Liberation Sans, Arial, sans-serif';

const grids = [], xAxes = [], yAxes = [], series = [], graphics = [];
panels.forEach((p, i) => {
  grids.push(Object.assign({show:true, borderColor:axisColor, borderWidth:1, backgroundColor:'#fff'}, p.grid));
  xAxes.push({
    type:'value', gridIndex:i, min:0, max:30, interval:5,
    name:'iteration', nameLocation:'middle', nameGap:20,
    nameTextStyle:{color:textColor, fontSize:11, fontFamily:fontSans},
    axisLine:{show:true, onZero:false, lineStyle:{color:axisColor, width:1}},
    axisTick:{show:true, inside:true, length:3, lineStyle:{color:axisColor}},
    axisLabel:{color:textColor, fontSize:10, fontFamily:fontSans, margin:6},
    splitLine:{show:true, lineStyle:{color:'#e9e9e9', width:1}}
  });
  yAxes.push({
    type:'value', gridIndex:i, min:p.y.min, max:p.y.max, interval:p.y.interval,
    name:'log |M+\u03bb I|', nameLocation:'middle', nameGap:p.nameGap, nameRotate:90,
    nameTextStyle:{color:textColor, fontSize:11, fontFamily:fontSans},
    axisLine:{show:true, onZero:false, lineStyle:{color:axisColor, width:1}},
    axisTick:{show:true, inside:true, length:3, lineStyle:{color:axisColor}},
    axisLabel:{color:textColor, fontSize:10, fontFamily:fontSans, margin:5,
      formatter: v => String(Math.round(v*1000)/1000)},
    splitLine:{show:true, lineStyle:{color:'#e9e9e9', width:1}}
  });
  p.lines.forEach((line, j) => {
    const data = iterations.map((x, k) => {
      const v = line[k];
      return [x, (v === null || v === undefined) ? '-' : v];
    });
    series.push({
      type:'line', xAxisIndex:i, yAxisIndex:i, data,
      symbol:'none', showSymbol:false, silent:true, connectNulls:false,
      lineStyle:{width:1, color:palette[j % 7]},
      itemStyle:{color:palette[j % 7]},
      animation:false, clip:true
    });
  });
  graphics.push({
    type:'text', x:p.cap[0], y:p.cap[1],
    style:{text:p.caption, fill:'#000', font:'28px "Liberation Serif", "Times New Roman", serif', textAlign:'center', textVerticalAlign:'middle'}
  });
  if (p.exp) {
    graphics.push({type:'text', x:p.grid.left+1, y:p.grid.top-3,
      style:{text:'\u00d710', fill:textColor, font:'10px "Liberation Sans", Arial, sans-serif', textAlign:'left', textVerticalAlign:'bottom'}});
    graphics.push({type:'text', x:p.grid.left+19, y:p.grid.top-8,
      style:{text:'4', fill:textColor, font:'7px "Liberation Sans", Arial, sans-serif', textAlign:'left', textVerticalAlign:'bottom'}});
  }
});

const chart = echarts.init(document.getElementById('c'), null, {renderer:'canvas'});
chart.setOption({
  backgroundColor:'#fff',
  animation:false,
  grid:grids, xAxis:xAxes, yAxis:yAxes, series, graphic:graphics
});
</script>
</body></html>
